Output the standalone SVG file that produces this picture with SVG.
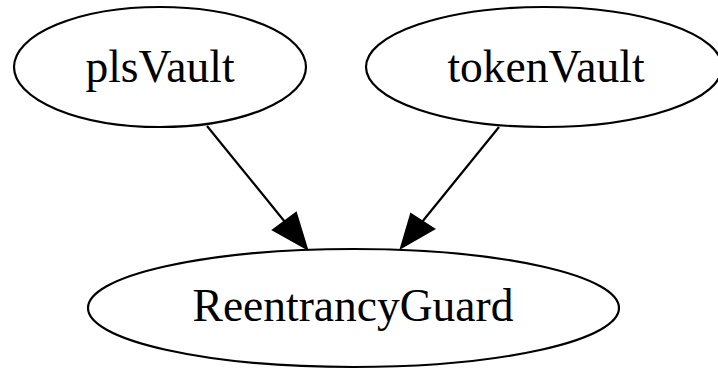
<svg xmlns="http://www.w3.org/2000/svg" width="718" height="369" viewBox="0 0 718 369">
<style>
.node ellipse{fill:none;stroke:#000;stroke-width:2.2}
.node text{font-family:"Liberation Serif","Times New Roman",serif;font-size:45.5px;fill:#000;text-anchor:middle}
.edge line{stroke:#000;stroke-width:2.2}
.edge polygon{fill:#000;stroke:#000;stroke-width:2}
</style>
<rect width="718" height="369" fill="#fff"/>
<g id="connectors" class="edge">
<line x1="207" y1="126" x2="285" y2="222"/>
<polygon points="273,230 296,213 307,249"/>
<line x1="499" y1="127" x2="422" y2="222"/>
<polygon points="411,214 434,229 401,248"/>
</g>
<g id="plsVault" class="node">
<ellipse cx="160" cy="67" rx="146" ry="60"/>
<text x="160" y="82">plsVault</text>
</g>
<g id="tokenVault" class="node">
<ellipse cx="544" cy="67" rx="178" ry="60"/>
<text x="546" y="82">tokenVault</text>
</g>
<g id="ReentrancyGuard" class="node">
<ellipse cx="353.5" cy="308" rx="265.5" ry="59"/>
<text x="353" y="321">ReentrancyGuard</text>
</g>
</svg>
